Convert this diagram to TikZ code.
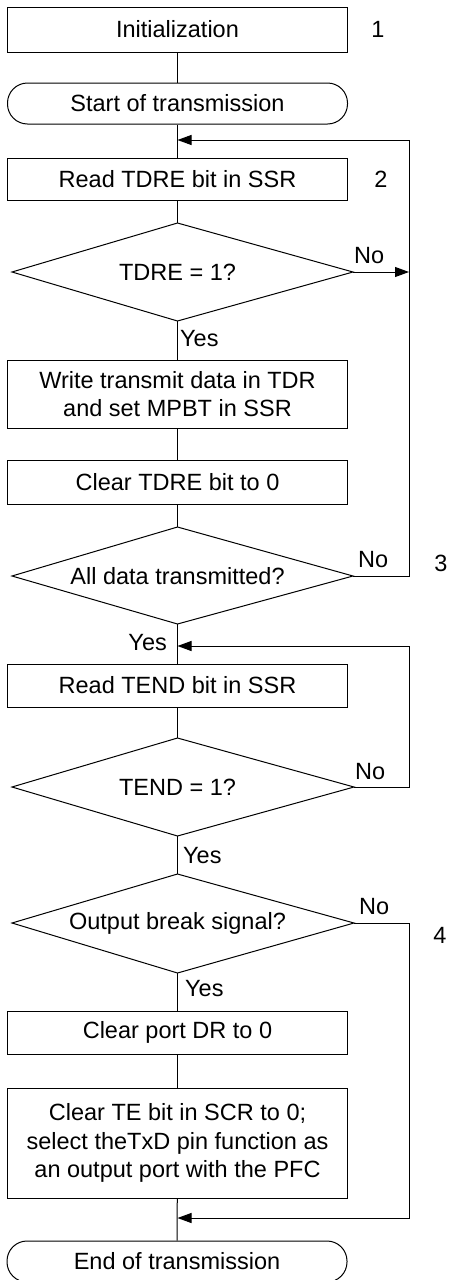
\documentclass[tikz,border=0pt]{standalone}
\usepackage{fontspec}
\setmainfont{Liberation Sans}
\usetikzlibrary{arrows.meta}
\begin{document}
\begin{tikzpicture}[x=1pt,y=-1pt,
  every node/.style={font=\fontsize{23.5}{28.5}\selectfont},
  flowline/.style={line width=1pt,line join=miter},
  procbox/.style={draw,line width=1pt,minimum width=340pt,inner sep=0pt,align=center},
  termbox/.style={draw,line width=1pt,minimum width=340pt,minimum height=41pt,inner sep=0pt,rounded corners=20pt},
  arr/.style={flowline,-{Triangle[length=14pt,width=10pt]}},
  lbl/.style={inner sep=0pt}
]
\useasboundingbox (0,0) rectangle (450,1280);

% process boxes and terminals
\node[procbox,minimum height=45pt] (init) at (177.5,29.5) {Initialization};
\node[termbox] (start) at (177.5,103.5) {Start of transmission};
\node[procbox,minimum height=42pt] (readtdre) at (177.5,179) {Read TDRE bit in SSR};
\node[procbox,minimum height=68pt] (write) at (177.5,394) {Write transmit data in TDR\\and set MPBT in SSR};
\node[procbox,minimum height=44pt] (cleartdre) at (177.5,482) {Clear TDRE bit to 0};
\node[procbox,minimum height=43pt] (readtend) at (177.5,685.5) {Read TEND bit in SSR};
\node[procbox,minimum height=43pt] (clearport) at (177.5,1032.5) {Clear port DR to 0};
\node[procbox,minimum height=110pt] (clearte) at (177.5,1143) {Clear TE bit in SCR to 0;\\select theTxD pin function as\\an output port with the PFC};
\node[termbox] (endt) at (177,1261.5) {End of transmission};

% decision diamonds
\coordinate (d1t) at (177.5,223); \coordinate (d1r) at (353,272); \coordinate (d1b) at (177.5,321); \coordinate (d1l) at (12,272);
\coordinate (d2t) at (177.5,527); \coordinate (d2r) at (353,576); \coordinate (d2b) at (177.5,624); \coordinate (d2l) at (12,576);
\coordinate (d3t) at (177.5,738); \coordinate (d3r) at (354,787); \coordinate (d3b) at (177.5,836); \coordinate (d3l) at (12,787);
\coordinate (d4t) at (177.5,874); \coordinate (d4r) at (354,923); \coordinate (d4b) at (177.5,973); \coordinate (d4l) at (12,923);
\draw[flowline] (d1t) -- (d1r) -- (d1b) -- (d1l) -- cycle;
\draw[flowline] (d2t) -- (d2r) -- (d2b) -- (d2l) -- cycle;
\draw[flowline] (d3t) -- (d3r) -- (d3b) -- (d3l) -- cycle;
\draw[flowline] (d4t) -- (d4r) -- (d4b) -- (d4l) -- cycle;
\node[lbl] (d1) at (177.5,272) {TDRE = 1?};
\node[lbl] (d2) at (177.5,576) {All data transmitted?};
\node[lbl] (d3) at (177.5,787) {TEND = 1?};
\node[lbl] (d4) at (177.5,923) {Output break signal?};

% merge points and loop corners
\coordinate (m1) at (177.5,140); \coordinate (m1r) at (409,140);
\coordinate (n1) at (409,272);
\coordinate (l2) at (409,576);
\coordinate (m2) at (177.5,646); \coordinate (m2r) at (409,646);
\coordinate (l3) at (409,787);
\coordinate (l4) at (409,923);
\coordinate (m3) at (177.5,1218); \coordinate (m3r) at (409,1218);

% main flow
\draw[flowline] (init) -- (start);
\draw[flowline] (start) -- (readtdre);
\draw[flowline] (readtdre) -- (d1t);
\draw[flowline] (d1b) -- (write);
\draw[flowline] (write) -- (cleartdre);
\draw[flowline] (cleartdre) -- (d2t);
\draw[flowline] (d2b) -- (readtend);
\draw[flowline] (readtend) -- (d3t);
\draw[flowline] (d3b) -- (d4t);
\draw[flowline] (d4b) -- (clearport);
\draw[flowline] (clearport) -- (clearte);
\draw[flowline] (clearte) -- (endt);

% loops
\draw[arr] (d1r) -- (n1);
\draw[arr] (d2r) -- (l2) -- (m1r) -- (m1);
\draw[arr] (d3r) -- (l3) -- (m2r) -- (m2);
\draw[arr] (d4r) -- (l4) -- (m3r) -- (m3);

% branch labels
\node[lbl,anchor=base west] (no1) at (354,263) {No};
\node[lbl,anchor=base west] (no2) at (358,567) {No};
\node[lbl,anchor=base west] (no3) at (355,779) {No};
\node[lbl,anchor=base west] (no4) at (359,914) {No};
\node[lbl,anchor=base west] (yes1) at (180,346.5) {Yes};
\node[lbl,anchor=base east] (yes2) at (167,650) {Yes};
\node[lbl,anchor=base west] (yes3) at (183,863) {Yes};
\node[lbl,anchor=base west] (yes4) at (185,996) {Yes};

% step numbers
\node[lbl,anchor=base] (s1) at (378,37) {1};
\node[lbl,anchor=base] (s2) at (381,187) {2};
\node[lbl,anchor=base] (s3) at (441,571) {3};
\node[lbl,anchor=base] (s4) at (440,943) {4};
\end{tikzpicture}
\end{document}
